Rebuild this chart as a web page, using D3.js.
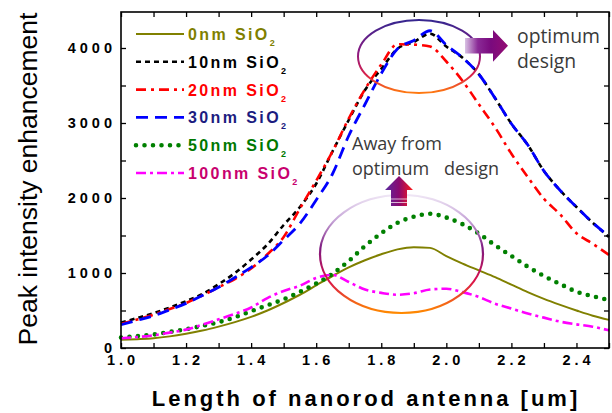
<!DOCTYPE html>
<html>
<head>
<meta charset="utf-8">
<script src="https://cdn.jsdelivr.net/npm/d3@7"></script>
<style>
  html, body { margin: 0; padding: 0; background: #fff; }
  svg { display: block; }
</style>
</head>
<body>
<svg id="chart" width="612" height="413"></svg>
<script>
// Nanorod antenna length (um), sampled every 0.05
const lengths = [1.00,1.05,1.10,1.15,1.20,1.25,1.30,1.35,1.40,1.45,1.50,1.55,1.60,1.65,1.70,1.75,
                 1.80,1.85,1.90,1.95,2.00,2.05,2.10,2.15,2.20,2.25,2.30,2.35,2.40,2.45,2.50];

// Peak intensity enhancement for each SiO2 spacer thickness
const sio2_0nm   = [110,118,130,155,190,232,285,345,415,500,600,710,835,960,1075,1170,
                    1250,1315,1345,1335,1225,1125,1035,945,845,745,655,575,500,430,375];
const sio2_10nm  = [340,400,465,540,625,720,850,1000,1180,1380,1640,1880,2190,2620,3040,3440,
                    3720,3990,4080,4190,4020,3870,3650,3330,2990,2710,2360,2100,1880,1670,1480];
const sio2_20nm  = [320,380,445,520,600,700,810,920,1060,1250,1480,1860,2230,2620,3060,3450,
                    3780,4050,4045,4020,3820,3560,3250,2940,2590,2280,1990,1780,1530,1390,1240];
const sio2_30nm  = [310,370,430,510,595,700,810,940,1075,1230,1440,1660,1973,2320,2830,3250,
                    3660,3990,4100,4230,4040,3870,3650,3330,2990,2710,2360,2100,1880,1670,1490];
const sio2_50nm  = [140,160,180,215,250,295,345,410,490,570,650,750,860,990,1160,1360,
                    1530,1670,1750,1790,1740,1650,1525,1370,1227,1085,960,853,751,690,640];
const sio2_100nm = [130,145,170,205,245,310,382,455,540,665,760,830,935,975,880,780,
                    735,710,730,780,790,745,680,590,525,460,405,351,315,284,235];

const seriesNames = ["0nm SiO", "10nm SiO", "20nm SiO", "30nm SiO", "50nm SiO", "100nm SiO"];
const seriesValues = [sio2_0nm, sio2_10nm, sio2_20nm, sio2_30nm, sio2_50nm, sio2_100nm];

const xTicks = [1.0, 1.2, 1.4, 1.6, 1.8, 2.0, 2.2, 2.4];
const yTicks = [0, 1000, 2000, 3000, 4000];

const xTitle = "Length of nanorod antenna [um]";
const yTitle = "Peak intensity enhancement";

// Styles per series
const lineColors = ["#808000", "#000000", "#ff0000", "#0000ff", "#008000", "#ff00ff"];
const textColors = ["#7f7f00", "#000000", "#ff0000", "#1c1c80", "#007800", "#c8006e"];
const dashes     = [null, "5,4", "10,5,3,5", "12,7", "0,8.5", "10,4,3,4"];
const widths     = [2, 2.6, 2.6, 2.8, 4.6, 2.6];
const caps       = ["butt", "butt", "butt", "butt", "round", "butt"];

const svg = d3.select("#chart");
const plotLeft = 121, plotRight = 609, plotTop = 12, plotBottom = 348;

const x = d3.scaleLinear().domain([1.0, 2.5]).range([plotLeft, plotRight]);
const y = d3.scaleLinear().domain([0, 4480]).range([plotBottom, plotTop]);

// Gradients for annotation shapes
const defs = svg.append("defs");
function linGrad(id, x1, y1, x2, y2, stops) {
  const g = defs.append("linearGradient").attr("id", id)
    .attr("x1", x1).attr("y1", y1).attr("x2", x2).attr("y2", y2);
  stops.forEach(s => g.append("stop").attr("offset", s[0]).attr("stop-color", s[1])
    .attr("stop-opacity", s[2] === undefined ? 1 : s[2]));
}
linGrad("gTopEllipse", 0, 0, 0, 1, [[0, "#35268f"], [0.45, "#8c1a82"], [0.75, "#d8204a"], [1, "#ff7a10"]]);
linGrad("gBotEllipse", 0, 0, 0, 1, [[0, "#efe6f5"], [0.22, "#c4a2d6"], [0.45, "#7e1a80"], [0.72, "#d8104c"], [1, "#ff8a00"]]);
linGrad("gRightArrow", 0, 0, 1, 0, [[0, "#d9c2e4"], [0.3, "#8a2a96"], [0.6, "#7a0a7e"], [1, "#940c72"]]);
linGrad("gUpArrow", 0, 0, 1, 0, [[0, "#5a2aa0"], [0.5, "#8a0a70"], [1, "#ff1a1a"]]);

// Axes: ticks point inward on all four sides
const xMinor = d3.range(1.0, 2.5001, 0.1);
const yMinor = d3.range(0, 4480, 500);

const axisG = svg.append("g");
axisG.append("g").attr("transform", `translate(0,${plotBottom})`)
  .call(d3.axisBottom(x).tickValues(xMinor).tickSize(-5).tickFormat(""));
axisG.append("g").attr("transform", `translate(0,${plotTop})`)
  .call(d3.axisTop(x).tickValues(xMinor).tickSize(-5).tickFormat(""));
axisG.append("g").attr("transform", `translate(${plotLeft},0)`)
  .call(d3.axisLeft(y).tickValues(yMinor).tickSize(-5).tickFormat(""));
axisG.append("g").attr("transform", `translate(${plotRight},0)`)
  .call(d3.axisRight(y).tickValues(yMinor).tickSize(-5).tickFormat(""));
axisG.selectAll(".domain").remove();
axisG.selectAll(".tick line").attr("stroke", "#000").attr("stroke-width", 1.3);

// Tick labels
const tickFont = "'Liberation Sans', Arial, sans-serif";
svg.append("g").selectAll("text").data(xTicks).join("text")
  .attr("x", d => x(d) + 2)
  .attr("y", 365)
  .attr("text-anchor", "middle")
  .attr("font-family", tickFont).attr("font-weight", "bold").attr("font-size", 14.5)
  .attr("letter-spacing", 4)
  .text(d => d.toFixed(1));
svg.append("g").selectAll("text").data(yTicks).join("text")
  .attr("x", 116)
  .attr("y", d => y(d) + 4.5)
  .attr("text-anchor", "end")
  .attr("font-family", tickFont).attr("font-weight", "bold").attr("font-size", 14.5)
  .attr("letter-spacing", 4)
  .text(d => d);

// Axis titles
svg.append("text")
  .attr("x", 366).attr("y", 406)
  .attr("text-anchor", "middle")
  .attr("font-family", tickFont).attr("font-weight", "bold").attr("font-size", 22)
  .attr("letter-spacing", 3)
  .text(xTitle);
svg.append("text")
  .attr("transform", "translate(37,179) rotate(-90)")
  .attr("text-anchor", "middle")
  .attr("font-family", tickFont).attr("font-size", 26.5)
  .text(yTitle);

// Series lines
const line = d3.line()
  .x((d, i) => x(lengths[i]))
  .y(d => y(d))
  .curve(d3.curveMonotoneX);

const plot = svg.append("g");
seriesValues.forEach((vals, k) => {
  plot.append("path")
    .datum(vals)
    .attr("d", line)
    .attr("fill", "none")
    .attr("stroke", lineColors[k])
    .attr("stroke-width", widths[k])
    .attr("stroke-linecap", caps[k])
    .attr("stroke-dasharray", dashes[k]);
});

// Frame
svg.append("rect")
  .attr("x", plotLeft).attr("y", plotTop)
  .attr("width", plotRight - plotLeft).attr("height", plotBottom - plotTop)
  .attr("fill", "none").attr("stroke", "#000").attr("stroke-width", 1.6);

// Legend
const legend = svg.append("g");
seriesNames.forEach((name, k) => {
  const by = 40 + k * 27.8;
  legend.append("line")
    .attr("x1", 136).attr("x2", 184)
    .attr("y1", by - 6).attr("y2", by - 6)
    .attr("stroke", lineColors[k])
    .attr("stroke-width", widths[k])
    .attr("stroke-linecap", caps[k])
    .attr("stroke-dasharray", dashes[k]);
  const t = legend.append("text")
    .attr("x", 188).attr("y", by)
    .attr("font-family", tickFont).attr("font-weight", "bold").attr("font-size", 16)
    .attr("letter-spacing", 2.4)
    .attr("fill", textColors[k]);
  t.append("tspan").text(name);
  t.append("tspan").attr("font-size", 9).attr("dy", 6).attr("letter-spacing", 0).text("2");
});

// Annotations: optimum region
const ann = svg.append("g");
ann.append("ellipse")
  .attr("cx", 419).attr("cy", 56.5).attr("rx", 61).attr("ry", 36.5)
  .attr("fill", "none").attr("stroke", "url(#gTopEllipse)").attr("stroke-width", 2);

ann.append("path")
  .attr("d", "M465,38 L493,38 L493,30 L508,45.8 L493,61.7 L493,53.5 L465,53.5 Z")
  .attr("fill", "url(#gRightArrow)");

const annFont = "'Open Sans', 'Noto Sans', sans-serif";
const topNote = ann.append("text")
  .attr("font-family", annFont).attr("font-size", 19).attr("fill", "#3a3a3a");
const topWord = topNote.append("tspan").attr("x", 517).attr("y", 43).text("optimum");
topNote.append("tspan").attr("x", 517).attr("y", 68).text("design");

// Size the side note so its first word spans about 83px
const measured = topWord.node().getComputedTextLength();
if (measured > 20) {
  const fs = Math.max(16, Math.min(24, 19 * 83 / measured));
  topNote.attr("font-size", fs);
}

// Annotations: away from optimum
ann.append("ellipse")
  .attr("cx", 401.5).attr("cy", 254).attr("rx", 81.5).attr("ry", 59)
  .attr("fill", "none").attr("stroke", "url(#gBotEllipse)").attr("stroke-width", 2.2);

ann.append("path")
  .attr("d", "M391,206 L391,190 L385,190 L399,176 L413,190 L407,190 L407,206 Z")
  .attr("fill", "url(#gUpArrow)");
[199, 202.5].forEach(yy => {
  ann.append("line").attr("x1", 390).attr("x2", 408).attr("y1", yy).attr("y2", yy)
    .attr("stroke", "#fff").attr("stroke-opacity", 0.7).attr("stroke-width", 1);
});

const botNote = ann.append("text")
  .attr("font-family", annFont).attr("font-size", 18).attr("fill", "#3a3a3a");
botNote.append("tspan").attr("x", 352).attr("y", 150).text("Away from");
botNote.append("tspan").attr("x", 352).attr("y", 175).text("optimum");
botNote.append("tspan").attr("x", 444).attr("y", 175).text("design");
</script>
</body>
</html>
